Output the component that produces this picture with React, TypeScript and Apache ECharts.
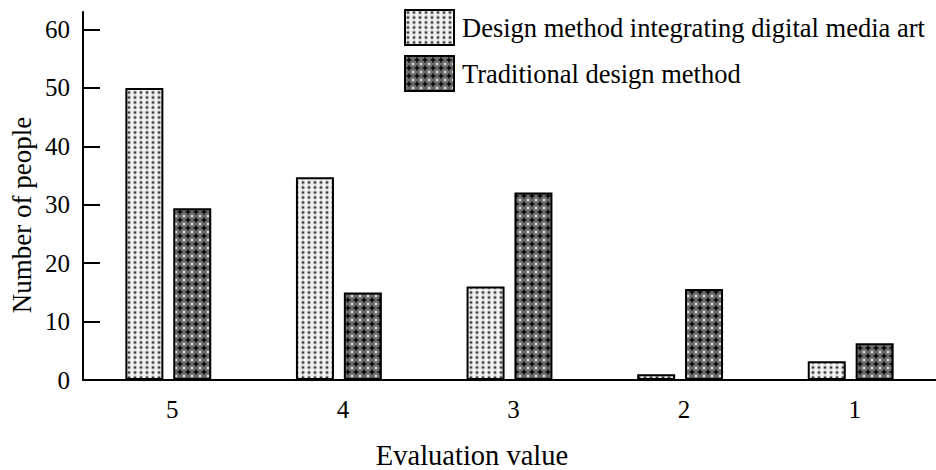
import React, { useEffect, useRef } from "react";
import * as echarts from "echarts";

const categories = ["5", "4", "3", "2", "1"];
const digitalMedia = [50, 34.7, 16, 1, 3.2];
const traditional = [29.4, 15, 32.1, 15.6, 6.3];
const yTicks = [0, 10, 20, 30, 40, 50, 60];
const seriesNames = ["Design method integrating digital media art", "Traditional design method"];

const FONT = "'Liberation Serif', 'Times New Roman', serif";

function makeLightTile(): HTMLCanvasElement {
  const c = document.createElement("canvas");
  c.width = 6;
  c.height = 5;
  const g = c.getContext("2d")!;
  g.fillStyle = "#f2f2f2";
  g.fillRect(0, 0, 6, 5);
  g.fillStyle = "#a8a8a8";
  g.beginPath();
  g.arc(3, 2.5, 1.9, 0, Math.PI * 2);
  g.fill();
  g.fillStyle = "#303030";
  g.beginPath();
  g.arc(3, 2.5, 1.0, 0, Math.PI * 2);
  g.fill();
  return c;
}

function makeDarkTile(): HTMLCanvasElement {
  const c = document.createElement("canvas");
  c.width = 8;
  c.height = 8;
  const g = c.getContext("2d")!;
  g.fillStyle = "#6e6e6e";
  g.fillRect(0, 0, 8, 8);
  g.fillStyle = "#050505";
  g.beginPath();
  g.moveTo(4, 0.5);
  g.lineTo(5, 3);
  g.lineTo(7.5, 4);
  g.lineTo(5, 5);
  g.lineTo(4, 7.5);
  g.lineTo(3, 5);
  g.lineTo(0.5, 4);
  g.lineTo(3, 3);
  g.closePath();
  g.fill();
  g.fillStyle = "#dcdcdc";
  [[0, 0], [8, 0], [0, 8], [8, 8]].forEach(([x, y]) => {
    g.beginPath();
    g.arc(x, y, 1.3, 0, Math.PI * 2);
    g.fill();
  });
  return c;
}

export default function App() {
  const ref = useRef<HTMLDivElement>(null);
  useEffect(() => {
    if (!ref.current) return;
    const chart = echarts.init(ref.current, null, { renderer: "svg" });
    const light = makeLightTile();
    const dark = makeDarkTile();
    const lightFill: any = { image: light.toDataURL(), repeat: "repeat", imageWidth: 6, imageHeight: 5 };
    const darkFill: any = { image: dark.toDataURL(), repeat: "repeat", imageWidth: 8, imageHeight: 8 };

    chart.setOption({
      animation: false,
      backgroundColor: "#ffffff",
      textStyle: { fontFamily: FONT, color: "#000" },
      grid: { left: 83, top: 12, width: 861, bottom: 90, containLabel: false },
      legend: {
        orient: "vertical",
        left: 404,
        top: 9,
        padding: 0,
        itemWidth: 49,
        itemHeight: 35,
        itemGap: 9,
        icon: "rect",
        textStyle: { fontFamily: FONT, fontSize: 26.5, color: "#000", padding: [0, 0, 0, 3] },
        data: seriesNames,
      },
      xAxis: {
        type: "category",
        data: categories,
        boundaryGap: true,
        axisLine: { show: true, lineStyle: { color: "#000", width: 2 } },
        axisTick: { show: false },
        axisLabel: { fontFamily: FONT, fontSize: 25, color: "#000", margin: 17, padding: [0, 0, 0, 8] },
        splitLine: { show: false },
      },
      yAxis: {
        type: "value",
        min: 0,
        max: 63,
        interval: 10,
        axisLine: { show: true, lineStyle: { color: "#000", width: 2 } },
        axisTick: {
          show: true,
          inside: true,
          length: 17,
          lineStyle: { color: "#000", width: 2 },
          customValues: yTicks,
        },
        axisLabel: {
          fontFamily: FONT,
          fontSize: 25,
          color: "#000",
          margin: 13,
          customValues: yTicks,
        },
        splitLine: { show: false },
      },
      graphic: [
        {
          type: "text",
          x: 22,
          y: 215,
          rotation: Math.PI / 2,
          style: {
            text: "Number of people",
            font: `27px ${FONT}`,
            fill: "#000",
            align: "center",
            verticalAlign: "middle",
          },
        },
        {
          type: "text",
          x: 472,
          y: 441,
          style: {
            text: "Evaluation value",
            font: `28.5px ${FONT}`,
            fill: "#000",
            align: "center",
            verticalAlign: "top",
          },
        },
      ],
      series: [
        {
          name: seriesNames[0],
          type: "bar",
          data: digitalMedia,
          barWidth: 38,
          barGap: "26%",
          itemStyle: { color: lightFill, borderColor: "#000", borderWidth: 2 },
        },
        {
          name: seriesNames[1],
          type: "bar",
          data: traditional,
          barWidth: 38,
          itemStyle: { color: darkFill, borderColor: "#000", borderWidth: 2 },
        },
      ],
    });
    return () => chart.dispose();
  }, []);
  return (
    <div
      ref={ref}
      style={{ position: "absolute", left: 0, top: 0, width: 936, height: 470 }}
    />
  );
}
